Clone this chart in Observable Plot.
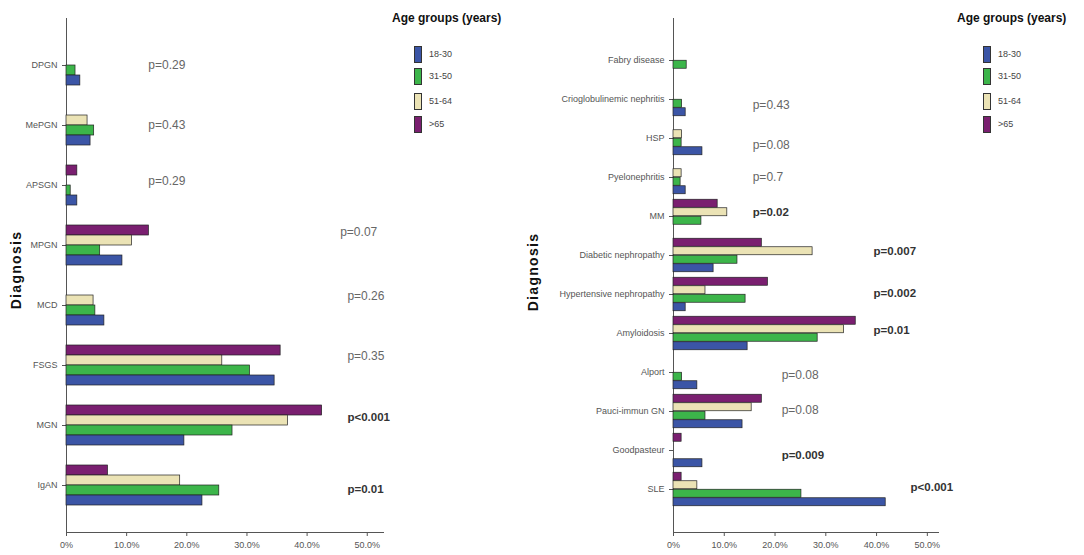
<!DOCTYPE html>
<html>
<head>
<meta charset="utf-8">
<script src="https://cdn.jsdelivr.net/npm/d3@7"></script>
<script src="https://cdn.jsdelivr.net/npm/@observablehq/plot@0.6"></script>
<style>
  body { margin: 0; background: #fff; }
  #root { position: relative; width: 1084px; height: 555px; overflow: hidden; background: #fff; font-family: "Liberation Sans", Arial, sans-serif; }
  .panel { position: absolute; top: 0; }
  .ytitle { position: absolute; font-weight: bold; font-size: 14px; letter-spacing: 1.3px; color: #111; transform: translate(-50%, -50%) rotate(-90deg); white-space: nowrap; }
  .legend { position: absolute; font-family: "Liberation Sans", Arial, sans-serif; }
  .legend .title { position: absolute; white-space: nowrap; font-weight: bold; font-size: 12px; color: #111; }
  .legend .sw { position: absolute; width: 6px; height: 15px; border: 1px solid #333; }
  .legend .lab { position: absolute; white-space: nowrap; font-size: 9px; color: #444; }
</style>
</head>
<body>
<div id="root"></div>
<script>
// ---------- DATA ----------
const ageGroups = ["18-30", "31-50", "51-64", ">65"];
const ageColors = ["#3b55a6", "#3cb54a", "#ebe3b5", "#7a1f70"];

const leftDiagnoses = ["DPGN", "MePGN", "APSGN", "MPGN", "MCD", "FSGS", "MGN", "IgAN"];
const left18_30 = [2.3, 4.0, 1.8, 9.3, 6.3, 34.6, 19.6, 22.6];
const left31_50 = [1.5, 4.6, 0.7, 5.6, 4.8, 30.5, 27.6, 25.4];
const left51_64 = [0, 3.5, 0, 10.9, 4.5, 25.9, 36.8, 18.9];
const left65 = [0, 0, 1.8, 13.7, 0, 35.6, 42.5, 6.9];
const leftP = ["p=0.29", "p=0.43", "p=0.29", "p=0.07", "p=0.26", "p=0.35", "p<0.001", "p=0.01"];
const leftPBold = [false, false, false, false, false, false, true, true];

const rightDiagnoses = ["Fabry disease", "Crioglobulinemic nephritis", "HSP", "Pyelonephritis", "MM",
  "Diabetic nephropathy", "Hypertensive nephropathy", "Amyloidosis", "Alport", "Pauci-immun GN", "Goodpasteur", "SLE"];
const right18_30 = [0, 2.4, 5.7, 2.4, 0, 7.9, 2.4, 14.6, 4.7, 13.6, 5.7, 41.8];
const right31_50 = [2.6, 1.7, 1.6, 1.4, 5.5, 12.6, 14.2, 28.4, 1.7, 6.3, 0, 25.2];
const right51_64 = [0, 0, 1.7, 1.6, 10.6, 27.4, 6.3, 33.6, 0, 15.4, 0, 4.7];
const right65 = [0, 0, 0, 0, 8.7, 17.4, 18.6, 35.9, 0, 17.4, 1.6, 1.6];
const rightP = ["", "p=0.43", "p=0.08", "p=0.7", "p=0.02", "p=0.007", "p=0.002", "p=0.01", "p=0.08", "p=0.08", "p=0.009", "p<0.001"];
const rightPBold = [false, false, false, false, true, true, true, true, false, false, true, true];

const xTicks = [0, 10, 20, 30, 40, 50];
const legendTitle = "Age groups (years)";
const axisTitle = "Diagnosis";

// ---------- LAYOUT (not data) ----------
const leftPX = [13.6, 13.6, 13.6, 45.5, 46.7, 46.7, 46.7, 46.7];
const leftPDy = [0, 0, -4, -13, -9, -9, -8, 4];
const rightPX = [0, 15.6, 15.6, 15.6, 15.6, 39.4, 39.4, 39.4, 21.3, 21.3, 21.3, 46.7];
const rightPDy = [0, 6, 7, 0, -4, -4, -1, -3, 3, -1, 5, -2];

function rows(diags, series) {
  const out = [];
  diags.forEach((d, i) => {
    series.forEach((s, k) => out.push({diagnosis: d, age: ageGroups[k], value: s[i]}));
  });
  return out;
}

const fmt = d => d === 0 ? "0%" : d.toFixed(1) + "%";

function panel({diags, series, pText, pBold, pX, pDy, xMax, marginLeft, marginRight, barH, pInner, pOuter}) {
  const data = rows(diags, series).filter(r => r.value > 0);
  const pData = diags.map((d, i) => ({diagnosis: d, label: pText[i], bold: pBold[i], x: pX[i], dy: pDy[i]})).filter(r => r.label);
  const order = [">65", "51-64", "31-50", "18-30"];
  const barMarks = order.map((g, j) => Plot.barX(data.filter(r => r.age === g), {
    x: "value", y: "diagnosis", fill: "age", stroke: "#222", strokeWidth: 0.7,
    dy: (j - 1.5) * barH
  }));
  const pMarks = pData.map(d => Plot.text([d], {
    x: "x", y: "diagnosis", text: "label", textAnchor: "start", dy: d.dy,
    fontSize: d.bold ? 11.5 : 12, fontWeight: d.bold ? "bold" : "normal",
    fill: d.bold ? "#333" : "#666", fontFamily: "'Liberation Sans', sans-serif"
  }));
  return Plot.plot({
    width: 542, height: 555,
    marginLeft, marginRight, marginTop: 18, marginBottom: 23,
    style: {fontFamily: "'Liberation Sans', sans-serif", fontSize: "9px", color: "#555", background: "#fff"},
    x: {domain: [0, xMax], ticks: xTicks, tickFormat: fmt, label: null, line: true, tickSize: 4},
    y: {domain: diags, paddingInner: pInner, paddingOuter: pOuter, label: null, line: true, tickSize: 4},
    color: {domain: ageGroups, range: ageColors},
    marks: [...barMarks, ...pMarks]
  });
}

const root = document.getElementById("root");

const left = panel({
  diags: leftDiagnoses, series: [left18_30, left31_50, left51_64, left65],
  pText: leftP, pBold: leftPBold, pX: leftPX, pDy: leftPDy, xMax: 52.7,
  marginLeft: 66, marginRight: 542 - 383, barH: 10, pInner: 0.834, pOuter: 0.672
});
const leftDiv = document.createElement("div");
leftDiv.className = "panel"; leftDiv.style.left = "0px";
leftDiv.appendChild(left); root.appendChild(leftDiv);

const right = panel({
  diags: rightDiagnoses, series: [right18_30, right31_50, right51_64, right65],
  pText: rightP, pBold: rightPBold, pX: rightPX, pDy: rightPDy, xMax: 52.2,
  marginLeft: 131, marginRight: 542 - 396, barH: 8.5, pInner: 0.784, pOuter: 0.915
});
const rightDiv = document.createElement("div");
rightDiv.className = "panel"; rightDiv.style.left = "542px";
rightDiv.appendChild(right); root.appendChild(rightDiv);

[[16, 270], [533, 272]].forEach(([x, y]) => {
  const t = document.createElement("div");
  t.className = "ytitle"; t.textContent = axisTitle;
  t.style.left = x + "px"; t.style.top = y + "px";
  root.appendChild(t);
});

function legend(x0, swX) {
  const lg = document.createElement("div");
  lg.className = "legend"; lg.style.left = "0px"; lg.style.top = "0px";
  const t = document.createElement("div");
  t.className = "title"; t.textContent = legendTitle;
  t.style.left = x0 + "px"; t.style.top = "11px";
  lg.appendChild(t);
  const ys = [46, 68, 93, 116];
  ageGroups.forEach((g, i) => {
    const s = document.createElement("div");
    s.className = "sw"; s.style.left = swX + "px"; s.style.top = ys[i] + "px";
    s.style.background = ageColors[i];
    lg.appendChild(s);
    const l = document.createElement("div");
    l.className = "lab"; l.textContent = g;
    l.style.left = (swX + 15) + "px"; l.style.top = (ys[i] + 3) + "px";
    lg.appendChild(l);
  });
  root.appendChild(lg);
}
legend(392, 414);
legend(957, 983);
</script>
</body>
</html>
